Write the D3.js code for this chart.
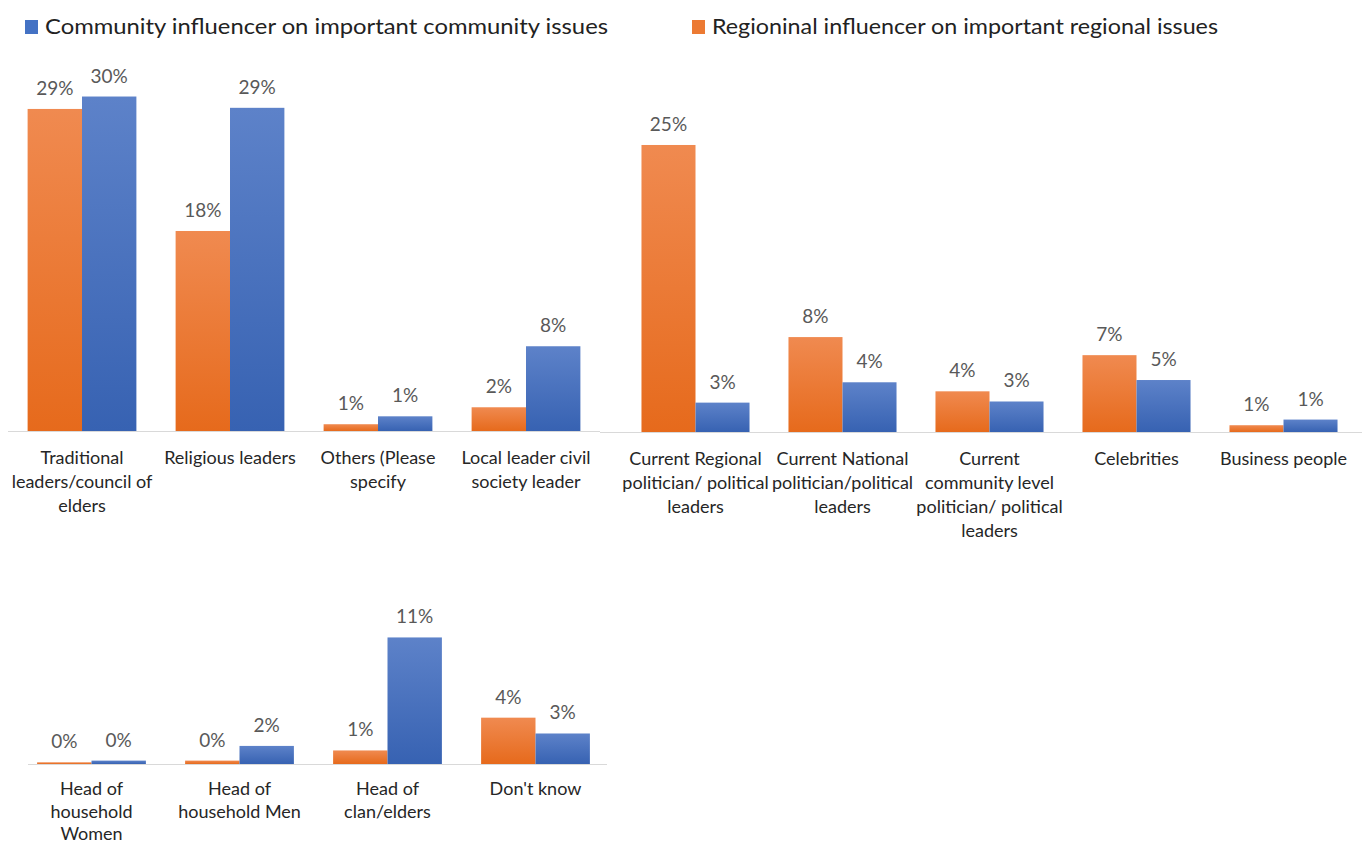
<!DOCTYPE html>
<html>
<head>
<meta charset="utf-8">
<script src="https://cdn.jsdelivr.net/npm/d3@7"></script>
<style>
  html, body { margin: 0; padding: 0; background: #fff; }
  svg { display: block; font-family: Lato, "Open Sans", sans-serif; }
</style>
</head>
<body>
<svg id="chart" width="1364" height="846"></svg>
<script>
// Series names (legend)
const seriesNames = [
  "Regioninal influencer on important regional issues",
  "Community influencer on important community issues"
];

// Panel 1: traditional / civil leaders
const catsA = [
  "Traditional\nleaders/council of\nelders",
  "Religious leaders",
  "Others (Please\nspecify",
  "Local leader civil\nsociety leader"
];
const regionalA  = [28.5, 17.7, 0.6, 2.1];
const communityA = [29.6, 28.6, 1.3, 7.5];

// Panel 2: politicians, celebrities, business
const catsB = [
  "Current Regional\npolitician/ political\nleaders",
  "Current National\npolitician/political\nleaders",
  "Current\ncommunity level\npolitician/ political\nleaders",
  "Celebrities",
  "Business people"
];
const regionalB  = [25.4, 8.4, 3.6, 6.8, 0.6];
const communityB = [2.6, 4.4, 2.7, 4.6, 1.1];

// Panel 3: household / clan heads
const catsC = [
  "Head of\nhousehold\nWomen",
  "Head of\nhousehold Men",
  "Head of\nclan/elders",
  "Don't know"
];
const regionalC  = [0.15, 0.3, 1.2, 4.1];
const communityC = [0.3, 1.6, 11.2, 2.7];

const svg = d3.select("#chart");
const defs = svg.append("defs");

// Bar fills: lighter at the top, deeper at the base
function gradient(id, top, bottom) {
  const g = defs.append("linearGradient")
    .attr("id", id).attr("x1", 0).attr("y1", 0).attr("x2", 0).attr("y2", 1);
  g.append("stop").attr("offset", "0%").attr("stop-color", top);
  g.append("stop").attr("offset", "100%").attr("stop-color", bottom);
}
gradient("gOrange", "#f08a50", "#e66a1c");
gradient("gBlue", "#5d82c9", "#3762b2");
const fills = ["url(#gOrange)", "url(#gBlue)"];
const swatch = ["#ec7a33", "#4472c4"];

const pxPerPct = 11.3;
const fmt = v => Math.round(v) + "%";

function panel(cats, regional, community, x0, x1, baseline, lineX0, lineX1, labelGap, lineStep) {
  const rows = cats.map((c, i) => ({ cat: c, vals: [regional[i], community[i]] }));
  const x = d3.scaleBand().domain(cats).range([x0, x1])
    .paddingInner(0.265).paddingOuter(0.1325);
  const xs = d3.scaleBand().domain([0, 1]).range([0, x.bandwidth()]);
  const y = d3.scaleLinear().domain([0, 30]).range([baseline, baseline - 30 * pxPerPct]);

  const g = svg.append("g");

  // baseline axis
  g.append("line")
    .attr("x1", lineX0).attr("x2", lineX1)
    .attr("y1", baseline + 0.5).attr("y2", baseline + 0.5)
    .attr("stroke", "#d9d9d9").attr("stroke-width", 1.2);

  const grp = g.selectAll("g.cat").data(rows).join("g")
    .attr("transform", d => `translate(${x(d.cat)},0)`);

  grp.selectAll("rect").data(d => d.vals).join("rect")
    .attr("x", (v, i) => xs(i))
    .attr("width", xs.bandwidth())
    .attr("y", v => y(v))
    .attr("height", v => y(0) - y(v))
    .attr("fill", (v, i) => fills[i]);

  grp.selectAll("text.val").data(d => d.vals).join("text")
    .attr("class", "val")
    .attr("x", (v, i) => xs(i) + xs.bandwidth() / 2)
    .attr("y", v => y(v) - 14)
    .attr("text-anchor", "middle")
    .attr("font-size", 19)
    .attr("fill", "#595959")
    .text(fmt);

  // category labels, wrapped
  grp.append("text")
    .attr("text-anchor", "middle")
    .attr("font-size", 18)
    .attr("fill", "#262626")
    .selectAll("tspan")
    .data(d => d.cat.split("\n"))
    .join("tspan")
    .attr("x", x.bandwidth() / 2)
    .attr("y", (s, i) => baseline + labelGap + i * lineStep)
    .text(s => s);
}

panel(catsA, regionalA, communityA, 8, 600, 431, 8, 600, 33, 24);
panel(catsB, regionalB, communityB, 622, 1357, 432, 600, 1362, 33, 24);
panel(catsC, regionalC, communityC, 17.5, 609.5, 764, 28, 607, 31, 22.5);

// Legend
const legend = [
  { name: seriesNames[1], color: swatch[1], sx: 25, tx: 45, tw: 563 },
  { name: seriesNames[0], color: swatch[0], sx: 692, tx: 712, tw: 506 }
];
const lg = svg.append("g").selectAll("g").data(legend).join("g");
lg.append("rect")
  .attr("x", d => d.sx).attr("y", 20).attr("width", 13).attr("height", 14)
  .attr("fill", d => d.color);
lg.append("text")
  .attr("x", d => d.tx).attr("y", 34)
  .attr("font-size", 21)
  .attr("fill", "#222")
  .attr("textLength", d => d.tw)
  .attr("lengthAdjust", "spacingAndGlyphs")
  .text(d => d.name);
</script>
</body>
</html>
